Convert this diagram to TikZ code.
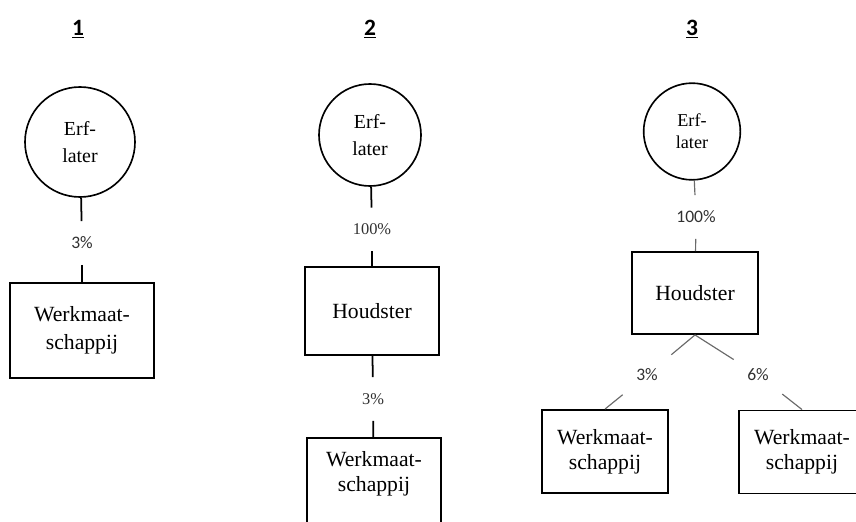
\documentclass[tikz,border=0pt]{standalone}
\usepackage{fontspec}
\setmainfont{Liberation Serif}
\newfontfamily\calfont{Carlito}
\usepackage{tikz}
\usetikzlibrary{positioning}

\definecolor{pctgray}{HTML}{303030}
\definecolor{linkgray}{HTML}{6A6A6A}

\tikzset{
  erf/.style={circle,draw,line width=1.4pt,align=center,inner sep=0pt,
    font=\fontsize{17}{23}\selectfont},
  entity/.style={rectangle,draw,line width=1.6pt,align=center,inner sep=0pt,
    font=\fontsize{18.5}{21.5}\selectfont},
  pct/.style={inner xsep=4mm,minimum height=13mm,text=pctgray,
    font=\calfont\fontsize{15}{16}\selectfont},
  pctserif/.style={pct,font=\fontsize{14}{16}\selectfont},
  link/.style={line width=1.5pt},
  thinlink/.style={line width=1pt,draw=linkgray},
  nummer/.style={font=\calfont\bfseries\fontsize{20}{22}\selectfont}
}

\begin{document}
\begin{tikzpicture}[x=0.3mm,y=-0.3mm]
\useasboundingbox (0,0) rectangle (856,522);
\clip (0,0) rectangle (856,522);

% situatie 1
\node[nummer] (n1) at (78,29) {\underline{1}};
\node[erf,minimum size=33mm] (e1) at (80,142) {Erf-\\later};
\node[pct] (p1) at (82,243) {3\%};
\node[entity,minimum width=43.2mm,minimum height=28.5mm,font=\fontsize{18.5}{24}\selectfont] (w1) at (82,330.5) {Werkmaat-\\schappij};
\draw[link] (e1) -- (p1);
\draw[link] (p1) -- (w1);

% situatie 2
\node[nummer] (n2) at (370,29) {\underline{2}};
\node[erf,minimum size=30.6mm] (e2) at (370,135) {Erf-\\later};
\node[pctserif] (p2) at (372,229.5) {100\%};
\node[entity,minimum width=40.2mm,minimum height=26.4mm] (h2) at (372,311) {Houdster};
\node[pctserif] (q2) at (373,399) {3\%};
\node[entity,minimum width=40.2mm,anchor=north,inner ysep=4mm,text depth=30mm] (w2) at (374,437) {Werkmaat-\\schappij};
\draw[link] (e2) -- (p2);
\draw[link] (p2) -- (h2);
\draw[link] (h2) -- (q2);
\draw[link] (q2) -- (w2);

% situatie 3
\node[nummer] (n3) at (692,29) {\underline{3}};
\node[erf,minimum size=29mm,font=\fontsize{15.5}{18.5}\selectfont] (e3) at (692,131.5) {Erf-\\later};
\node[pct] (p3) at (696,217) {100\%};
\node[entity,minimum width=37.8mm,minimum height=24.6mm] (h3) at (695,293) {Houdster};
\node[pct,minimum height=12.6mm] (q3) at (647,375) {3\%};
\node[pct,minimum height=12.6mm] (r3) at (758,375) {6\%};
\node[entity,minimum width=37.8mm,minimum height=24.9mm] (w3) at (605,451.5) {Werkmaat-\\schappij};
\node[entity,minimum width=37.8mm,minimum height=24.9mm] (w4) at (802,452) {Werkmaat-\\schappij};
\draw[thinlink] (e3) -- (p3);
\draw[thinlink] (p3) -- (h3);
\draw[thinlink] (h3.south) -- (q3);
\draw[thinlink] (q3) -- (w3.north);
\draw[thinlink] (h3.south) -- (r3);
\draw[thinlink] (r3) -- (w4.north);
\end{tikzpicture}
\end{document}
